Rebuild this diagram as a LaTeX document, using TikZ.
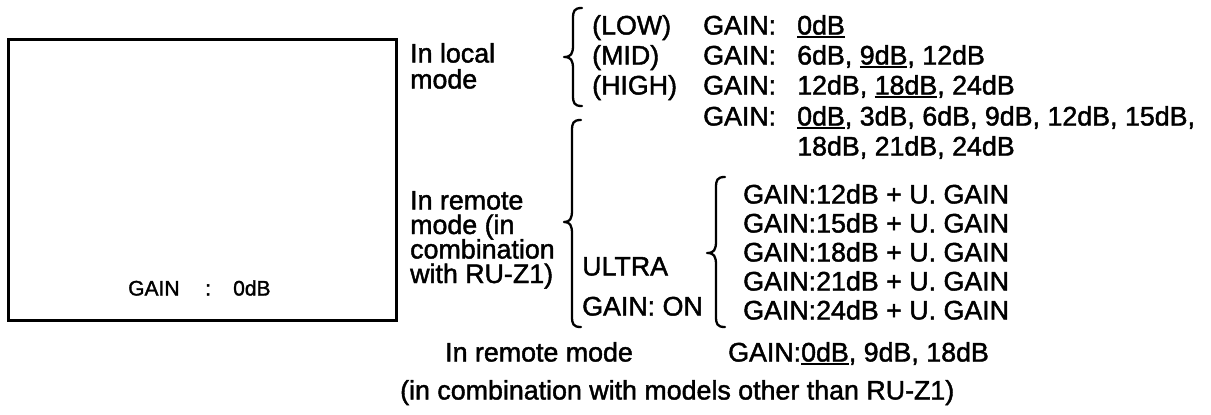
\documentclass[tikz,border=0pt]{standalone}
\usepackage{fontspec}
\setmainfont{Liberation Sans}[FakeBold=1.6]
\newcommand\ulx[1]{\setbox0\hbox{#1}\rlap{\rule[-3.4pt]{\wd0}{1.8pt}}\box0}
\newcommand\bracepath[6]{\draw[bracestyle] (#3,#4) .. controls (#1+1,#4) and (#1,#4+3) .. (#1,#4+11) -- (#1,#5-12) .. controls (#1,#5-3) and (#1-2,#5) .. (#2,#5) .. controls (#1-2,#5) and (#1,#5+3) .. (#1,#5+12) -- (#1,#6-11) .. controls (#1,#6-3) and (#1+1,#6) .. (#3,#6);}
\begin{document}
\begin{tikzpicture}[x=1pt,y=-1pt,
  txt/.style={anchor=base west, inner sep=0pt, font=\fontsize{26.8}{30}\selectfont},
  small/.style={anchor=base west, inner sep=0pt, font=\fontsize{21}{25}\selectfont},
  bracestyle/.style={line width=2.3pt, line cap=round, line join=round},
  screenbox/.style={draw, line width=3pt, inner sep=0pt, anchor=north west}]
\useasboundingbox (0,0) rectangle (1211,415);
% screen
\node[screenbox, minimum width=388pt, minimum height=281pt] (screen) at (7,38) {};
\node[small] (sg) at (128,295.5) {GAIN};
\node[small] (sc) at (205,295.5) {:};
\node[small] (sv) at (233,295.5) {0dB};
% local mode
\node[txt] (loc1) at (410,62.5) {In local};
\node[txt] (loc2) at (410,88.5) {mode};
\bracepath{573}{564}{582}{8}{57}{106}
\node[txt] (low) at (592,34.5) {(LOW)};
\node[txt] (mid) at (592,64.5) {(MID)};
\node[txt] (high) at (592,94.5) {(HIGH)};
\node[txt] (g1) at (703,34.5) {GAIN:};
\node[txt] (g2) at (703,64.5) {GAIN:};
\node[txt] (g3) at (703,94.5) {GAIN:};
\node[txt] (g4) at (703,125.5) {GAIN:};
\node[txt] (v1) at (797,34.5) {\ulx{0dB}};
\node[txt] (v2) at (797,64.5) {6dB, \ulx{9dB}, 12dB};
\node[txt] (v3) at (797,94.5) {12dB, \ulx{18dB}, 24dB};
\node[txt] (v4) at (797,125.5) {\ulx{0dB}, 3dB, 6dB, 9dB, 12dB, 15dB,};
\node[txt] (v5) at (797,155.5) {18dB, 21dB, 24dB};
% remote mode with RU-Z1
\node[txt] (rem1) at (410,209.5) {In remote};
\node[txt] (rem2) at (410,234) {mode (in};
\node[txt] (rem3) at (410,258.5) {combination};
\node[txt] (rem4) at (410,283) {with RU-Z1)};
\bracepath{572}{564}{581}{120}{222}{327}
\node[txt] (ultra) at (582,275.5) {ULTRA};
\node[txt] (gon) at (582,315.5) {GAIN: ON};
\bracepath{716}{707}{725}{177}{253}{327}
\node[txt] (u1) at (743,203.5) {GAIN:12dB + U. GAIN};
\node[txt] (u2) at (743,232.5) {GAIN:15dB + U. GAIN};
\node[txt] (u3) at (743,261.5) {GAIN:18dB + U. GAIN};
\node[txt] (u4) at (743,290.5) {GAIN:21dB + U. GAIN};
\node[txt] (u5) at (743,319.5) {GAIN:24dB + U. GAIN};
% remote mode other
\node[txt] (oth1) at (445,361.5) {In remote mode};
\node[txt] (oth2) at (728,361.5) {GAIN:\ulx{0dB}, 9dB, 18dB};
\node[txt] (oth3) at (400,399.5) {(in combination with models other than RU-Z1)};
\end{tikzpicture}
\end{document}
